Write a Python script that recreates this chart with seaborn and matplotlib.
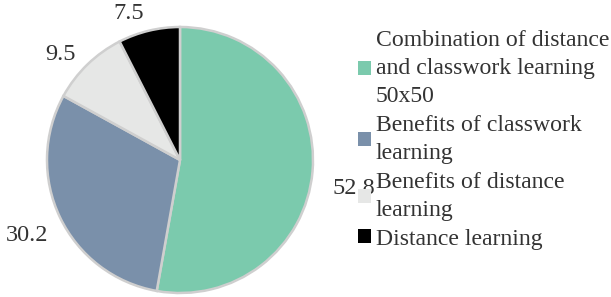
"""
Pie chart of preferred learning format
"""
import matplotlib
matplotlib.use("Agg")
import matplotlib.pyplot as plt
import seaborn as sns

categories = ["Combination of distance\nand classwork learning\n50x50",
              "Benefits of classwork\nlearning",
              "Benefits of distance\nlearning",
              "Distance learning"]
values = [52.8, 30.2, 9.5, 7.5]
value_labels = ["52.8", "30.2", "9.5", "7.5"]

sns.set_theme(style="white")
plt.rcParams['font.family'] = ['Liberation Serif', 'DejaVu Serif']
colors = sns.color_palette(["#7bcaad", "#7a90aa", "#e6e7e6", "#000000"])

fig = plt.figure(figsize=(6.11, 2.97), dpi=100)
ax = fig.add_axes([47 / 611, 4 / 297, 266 / 611, 266 / 297])

wedges, texts = ax.pie(values, labels=value_labels, colors=colors,
                       startangle=90, counterclock=False,
                       labeldistance=1.15,
                       wedgeprops=dict(edgecolor="#cfcfcf", linewidth=1.8),
                       textprops=dict(fontsize=17.5, color="#333333"))
# nudge labels a bit lower, like the original
label_shift = [(0, -0.11), (0.05, -0.07), (0.02, -0.03), (0, -0.02)]
for t, (dx, dy) in zip(texts, label_shift):
    x, y = t.get_position()
    t.set_position((x + dx, y + dy))

ax.set_xlim(-1, 1)
ax.set_ylim(-1, 1)
ax.set_aspect("equal")

leg = fig.legend(wedges, categories, loc="upper left",
                 bbox_to_anchor=(358 / 611, 1 - 30 / 297),
                 frameon=False, fontsize=17.1, labelspacing=0.34,
                 handlelength=0.55, handleheight=0.55, handletextpad=0.2,
                 borderpad=0, borderaxespad=0)
for t in leg.get_texts():
    t.set_color("#333333")
    t.set_linespacing(1.43)
for h in leg.legend_handles:
    h.set_edgecolor("none")

fig.savefig("out.png", dpi=100)
